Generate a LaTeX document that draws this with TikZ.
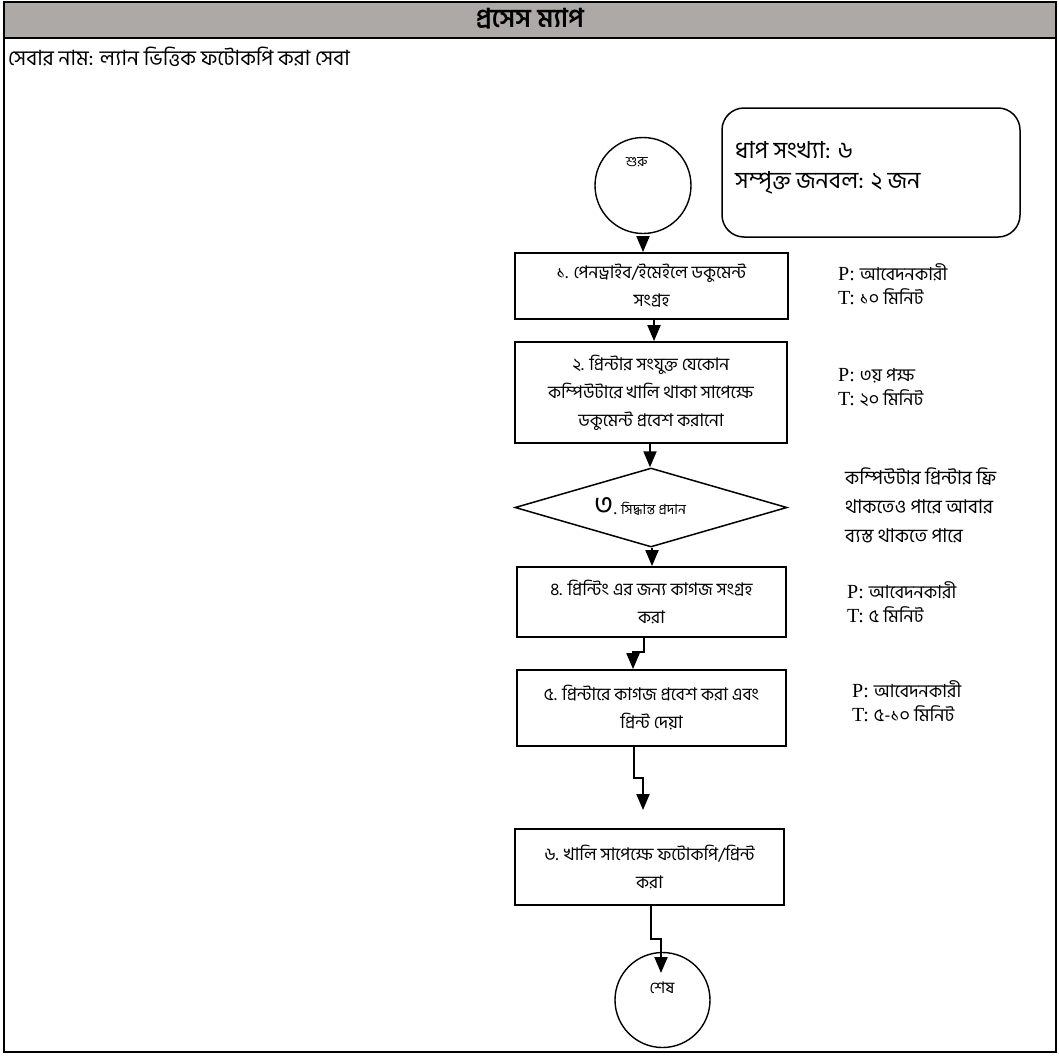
\documentclass[tikz,border=0pt]{standalone}
\usepackage{fontspec}
\setmainfont{Liberation Serif}
\newfontfamily\bn[Script=Bengali]{Hind Siliguri}
\usetikzlibrary{arrows.meta,shapes.geometric}
\definecolor{headgray}{RGB}{173,169,167}
\begin{document}
\begin{tikzpicture}[x=1pt,y=-1pt,
  stepbox/.style={draw,line width=1.8pt,rectangle,inner sep=0pt,align=center,
     font=\bn\fontsize{17.5}{28}\selectfont},
  termcircle/.style={draw,line width=1.4pt,circle,inner sep=0pt},
  arr/.style={line width=2pt,-{Triangle[length=16pt,width=13pt]}},
  ptlabel/.style={anchor=west,align=left,inner sep=0pt,font=\fontsize{20}{24}\selectfont},
  bnpt/.style={}
]
\useasboundingbox (0,0) rectangle (1059,1055);
% frame and header
\fill[headgray] (4,2) rectangle (1056,38);
\draw[line width=2.5pt] (4,2) rectangle (1056,1052);
\draw[line width=2.5pt] (4,38) -- (1056,38);
\node[font=\bn\bfseries\fontsize{26}{28}\selectfont] (title) at (530,19) {প্রসেস ম্যাপ};
\node[anchor=west,inner sep=0pt,font=\bn\fontsize{21}{24}\selectfont] (service) at (8,57) {সেবার নাম: ল্যান ভিত্তিক ফটোকপি করা সেবা};

% summary box
\node[draw,line width=1.5pt,rounded corners=22pt,minimum width=298pt,minimum height=129pt] (summary) at (871,172.5) {};
\node[anchor=west,align=left,inner sep=0pt,font=\bn\fontsize{23.5}{30}\selectfont] (summarytext) at (735,168) {ধাপ সংখ্যা: ৬\\সম্পৃক্ত জনবল: ২ জন};

% terminals
\node[termcircle,minimum size=96pt] (start) at (643,185.5) {};
\node[font=\bn\fontsize{14}{15}\selectfont] (starttext) at (637,162) {শুরু};

% steps
\node[stepbox,minimum width=273pt,minimum height=66pt] (b1) at (651.5,286) {১. পেনড্রাইব/ইমেইলে ডকুমেন্ট\\সংগ্রহ};
\node[stepbox,minimum width=272pt,minimum height=101pt] (b2) at (651,392.5) {২. প্রিন্টার সংযুক্ত যেকোন\\কম্পিউটারে খালি থাকা সাপেক্ষে\\ডকুমেন্ট প্রবেশ করানো};
\node[draw,line width=1.5pt,diamond,inner sep=0pt,minimum width=272pt,minimum height=79pt] (d3) at (651,507.5) {};
\node[inner sep=0pt] (d3text) at (640,506) {{\bn\fontsize{29}{30}\selectfont ৩}{\fontsize{18}{18}\selectfont.} {\bn\fontsize{14}{16}\selectfont সিদ্ধান্ত প্রদান}};
\node[stepbox,minimum width=269pt,minimum height=70pt] (b4) at (651.5,602) {৪. প্রিন্টিং এর জন্য কাগজ সংগ্রহ\\করা};
\node[stepbox,minimum width=269pt,minimum height=76pt] (b5) at (651.5,708) {৫. প্রিন্টারে কাগজ প্রবেশ করা এবং\\প্রিন্ট দেয়া};
\node[stepbox,minimum width=269pt,minimum height=76pt] (b6) at (649.5,867) {৬. খালি সাপেক্ষে ফটোকপি/প্রিন্ট\\করা};
\node[termcircle,minimum size=95pt] (finish) at (662.5,1000) {};
\node[font=\bn\fontsize{16}{17}\selectfont] (finishtext) at (662,988) {শেষ};

% side labels
\node[ptlabel] (pt1) at (838,284) {P: {\bn\fontsize{18}{24}\selectfont আবেদনকারী}\\T: {\bn\fontsize{18}{24}\selectfont ১০ মিনিট}};
\node[ptlabel] (pt2) at (838,388) {P: {\bn\fontsize{18}{24}\selectfont ৩য় পক্ষ}\\T: {\bn\fontsize{18}{24}\selectfont ২০ মিনিট}};
\node[ptlabel] (pt4) at (847,602) {P: {\bn\fontsize{18}{24}\selectfont আবেদনকারী}\\T: {\bn\fontsize{18}{24}\selectfont ৫ মিনিট}};
\node[ptlabel] (pt5) at (852,701) {P: {\bn\fontsize{18}{24}\selectfont আবেদনকারী}\\T: {\bn\fontsize{18}{24}\selectfont ৫-১০ মিনিট}};
\node[anchor=west,align=left,inner sep=0pt,font=\bn\fontsize{19}{29}\selectfont] (note3) at (845,505) {কম্পিউটার প্রিন্টার ফ্রি\\থাকতেও পারে আবার\\ব্যস্ত থাকতে পারে};

% connectors
\coordinate (j4a) at (644,652);
\coordinate (j4b) at (633,652);
\coordinate (j5a) at (634,778);
\coordinate (j5b) at (643,778);
\coordinate (e5) at (643,810);
\coordinate (j6a) at (651,939);
\coordinate (j6b) at (661,939);
\coordinate (e6) at (661,973);
\draw[arr] ([yshift=-5pt]start.south) -- (start.south |- b1.north);
\draw[arr] (b1.south -| 654,0) -- (b2.north -| 654,0);
\draw[arr] (b2.south -| 650,0) -- (d3.north -| 650,0);
\draw[arr] (d3.south -| 652,0) -- (b4.north -| 652,0);
\draw[arr] (b4.south -| j4a) -- (j4a) -- (j4b) -- (b5.north -| j4b);
\draw[arr] (b5.south -| j5a) -- (j5a) -- (j5b) -- (e5);
\draw[arr] (b6.south -| j6a) -- (j6a) -- (j6b) -- (e6);
\end{tikzpicture}
\end{document}
